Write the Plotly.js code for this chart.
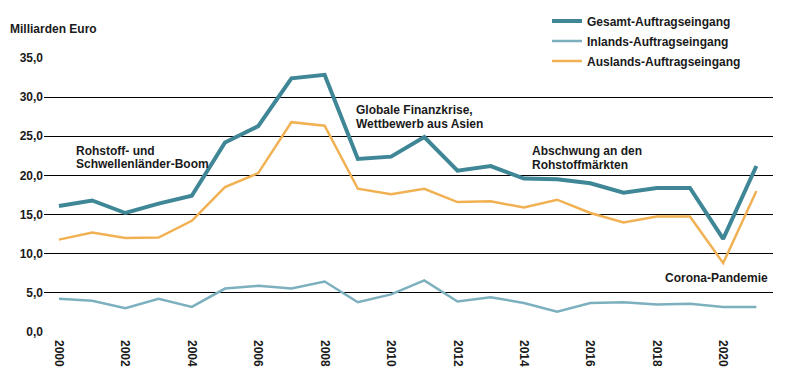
<!DOCTYPE html>
<html><head><meta charset="utf-8">
<script src="https://cdn.plot.ly/plotly-3.0.1.min.js"></script>
<style>body{margin:0;background:#fff}#c{width:795px;height:380px}</style>
</head><body><div id="c"></div>
<script>
const years = [2000,2001,2002,2003,2004,2005,2006,2007,2008,2009,2010,2011,2012,2013,2014,2015,2016,2017,2018,2019,2020,2021];
const gesamt = [16.1,16.8,15.2,16.4,17.4,24.2,26.3,32.4,32.85,22.1,22.4,24.9,20.6,21.2,19.6,19.5,19.0,17.8,18.4,18.4,11.9,21.2];
const inland = [4.25,4.0,3.05,4.25,3.2,5.55,5.9,5.55,6.45,3.8,4.8,6.6,3.9,4.45,3.7,2.6,3.7,3.8,3.5,3.6,3.2,3.2];
const ausland = [11.8,12.7,12.0,12.07,14.2,18.5,20.3,26.8,26.35,18.3,17.6,18.3,16.6,16.7,15.9,16.9,15.2,14.0,14.75,14.75,8.8,18.0];
const names = ['Gesamt-Auftragseingang','Inlands-Auftragseingang','Auslands-Auftragseingang'];
const xTicks = [2000,2002,2004,2006,2008,2010,2012,2014,2016,2018,2020];
const yTicks = [0,5,10,15,20,25,30,35];
const notes = [
  {x:2000.46, y:23.1, text:'Rohstoff- und'},
  {x:2000.46, y:21.4, text:'Schwellenländer-Boom'},
  {x:2008.87, y:28.3, text:'Globale Finanzkrise,'},
  {x:2008.87, y:26.6, text:'Wettbewerb aus Asien'},
  {x:2014.18, y:23.1, text:'Abschwung an den'},
  {x:2014.18, y:21.3, text:'Rohstoffmärkten'},
  {x:2018.2, y:6.96, text:'Corona-Pandemie'}
];
const FONT = 'Arial, "Liberation Sans", sans-serif';
const traces = [
  {x:years, y:gesamt, name:names[0], legendgroup:'a', mode:'lines', line:{color:'#3f8696', width:4}},
  {x:years, y:inland, name:names[1], legendgroup:'b', mode:'lines', line:{color:'#7db0be', width:2.5}},
  {x:years, y:ausland, name:names[2], legendgroup:'c', mode:'lines', line:{color:'#f1b153', width:2.5}}
];
const layout = {
  width:795, height:380,
  margin:{l:44, r:22, t:58, b:48, autoexpand:false},
  paper_bgcolor:'#fff', plot_bgcolor:'#fff',
  separators:',.',
  font:{family:FONT, size:12, color:'#1a1a1a'},
  showlegend:true,
  legend:{x:0.69, y:1.188, xanchor:'left', yanchor:'top', bgcolor:'rgba(0,0,0,0)',
          font:{family:FONT, size:12, color:'#1a1a1a', weight:'bold'}, tracegroupgap:1},
  xaxis:{range:[1999.55,2021.5], tickvals:xTicks, tickangle:90, showgrid:false, zeroline:false,
         showline:false, ticks:'', ticklabelstandoff:7, tickfont:{family:FONT, size:12, weight:'bold'}},
  yaxis:{range:[0,35], tickvals:yTicks, tickformat:'.1f', showgrid:true, gridcolor:'#000', gridwidth:1,
         zeroline:false, showline:false, ticks:'', tickfont:{family:FONT, size:12, weight:'bold'}},
  annotations: notes.map(n=>({x:n.x, y:n.y, xref:'x', yref:'y', text:n.text, showarrow:false,
      xanchor:'left', yanchor:'middle', align:'left', font:{family:FONT, size:12, weight:'bold'}}))
    .concat([{xref:'paper', yref:'paper', x:-0.05, y:1.105, xanchor:'left', yanchor:'middle',
      text:'Milliarden Euro', showarrow:false, font:{family:FONT, size:12, weight:'bold'}}])
};
Plotly.newPlot('c', traces, layout, {displayModeBar:false, staticPlot:true});
</script></body></html>
